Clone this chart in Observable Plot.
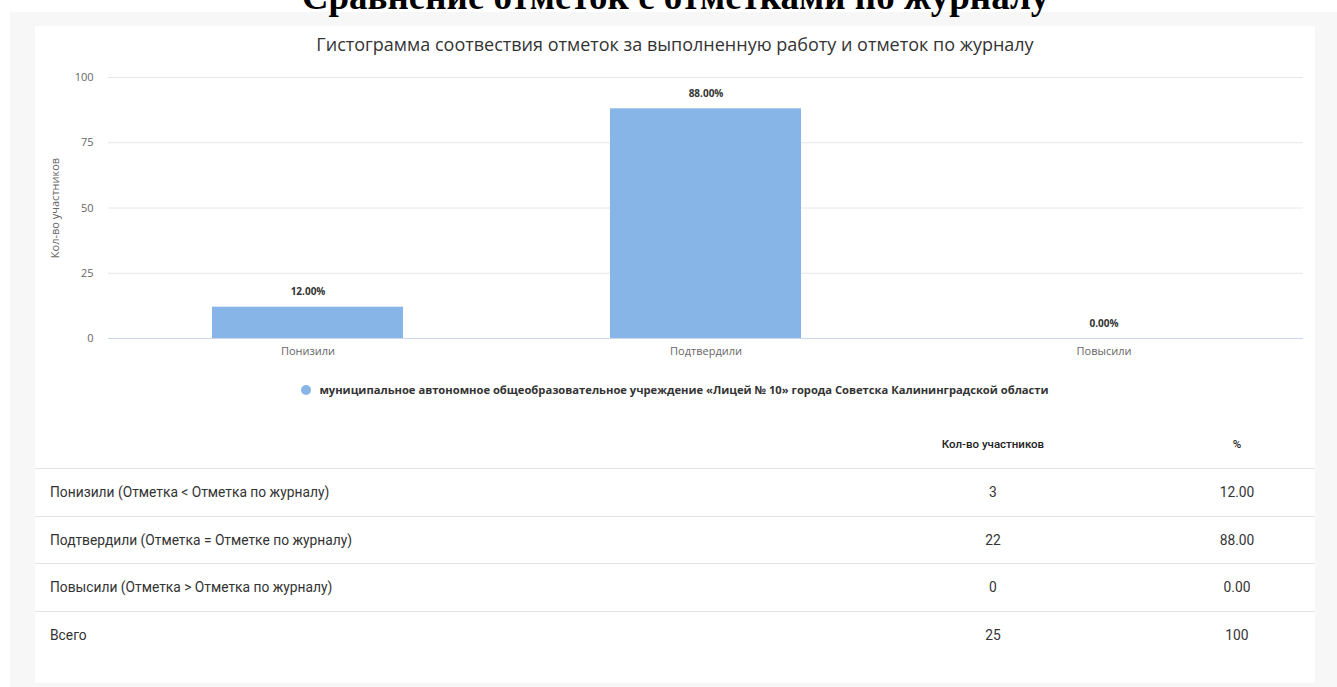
<!DOCTYPE html>
<html>
<head>
<meta charset="utf-8">
<script src="https://cdn.jsdelivr.net/npm/d3@7"></script>
<script src="https://cdn.jsdelivr.net/npm/@observablehq/plot@0.6"></script>
<style>
  html, body { margin: 0; padding: 0; background: #fff; width: 1337px; height: 687px; overflow: hidden; }
  #pagetitle { position: absolute; left: 7px; width: 1337px; top: -22px; text-align: center; font-family: "Liberation Serif", "Times New Roman", serif; font-weight: bold; font-size: 37px; line-height: 37px; color: #000; z-index: 3; white-space: nowrap; }
  #panel { position: absolute; left: 10px; top: 12px; right: 0; bottom: 0; background: #f7f7f7; z-index: 1; }
  #card { position: absolute; left: 35px; top: 26px; width: 1280px; height: 657px; background: #fff; z-index: 2; }
  #charttitle { position: absolute; left: 0; width: 1280px; top: 7px; text-align: center; font-family: "Open Sans", sans-serif; font-size: 18px; color: #333; line-height: 22px; white-space: nowrap; }
  #chart { position: absolute; left: 0; top: 34px; }
  #legend { position: absolute; left: 0; width: 1280px; top: 356px; text-align: center; font-family: "Open Sans", sans-serif; font-weight: bold; font-size: 11.2px; color: #333; line-height: 16px; white-space: nowrap; }
  #legend .dot { display: inline-block; width: 10px; height: 10px; border-radius: 50%; margin-right: 8px; vertical-align: -1px; }
  #tbl { position: absolute; left: 0; top: 394px; width: 1280px; border-collapse: collapse; font-family: Roboto, sans-serif; color: #333; }
  #tbl td, #tbl th { padding: 0; }
  #tbl th { height: 48px; font-size: 11.5px; font-weight: 500; color: #222; text-align: center; }
  #tbl td { height: 46.5px; font-size: 13.8px; border-top: 1px solid #e2e2e2; }
  #tbl td.lbl { padding-left: 15px; text-align: left; }
  #tbl td.num { text-align: center; }
</style>
</head>
<body>
<div id="pagetitle">Сравнение отметок с отметками по журналу</div>
<div id="panel"></div>
<div id="card">
  <div id="charttitle">Гистограмма соотвествия отметок за выполненную работу и отметок по журналу</div>
  <div id="chart"></div>
  <div id="legend"></div>
  <table id="tbl"></table>
</div>
<script>
// ---- data ----
const categories = ["Понизили", "Подтвердили", "Повысили"];
const percents = [12, 88, 0];
const counts = [3, 22, 0];
const rowLabels = [
  "Понизили (Отметка < Отметка по журналу)",
  "Подтвердили (Отметка = Отметке по журналу)",
  "Повысили (Отметка > Отметка по журналу)"
];
const totalLabel = "Всего";
const totalCount = 25;
const totalPercent = "100";
const yTicks = [0, 25, 50, 75, 100];
const seriesName = "муниципальное автономное общеобразовательное учреждение «Лицей № 10» города Советска Калининградской области";
const yLabel = "Кол-во участников";
const colHeaders = ["", "Кол-во участников", "%"];
const barColor = "#88b5e8";

const data = categories.map((c, i) => ({cat: c, pct: percents[i], n: counts[i]}));

const chart = Plot.plot({
  width: 1280,
  height: 310,
  marginLeft: 73,
  marginRight: 12,
  marginTop: 17,
  marginBottom: 32,
  style: {fontFamily: "Open Sans, sans-serif", fontSize: "11px", color: "#666", background: "transparent", overflow: "visible"},
  x: {domain: categories, paddingInner: 0.52, paddingOuter: 0.26, label: null},
  y: {domain: [0, 100], label: null},
  marks: [
    Plot.gridY(yTicks, {stroke: "#e6e6e6", strokeOpacity: 1}),
    Plot.axisY(yTicks, {tickSize: 0, tickPadding: 15, label: yLabel, labelAnchor: "center", labelOffset: 57, labelArrow: "none", fontSize: 11}),
    Plot.axisX({tickSize: 0, tickPadding: 9, fontSize: 11}),
    Plot.barY(data, {x: "cat", y: "pct", fill: barColor}),
    Plot.ruleY([0], {stroke: "#ccd6eb"}),
    Plot.text(data, {x: "cat", y: "pct", text: d => d.pct.toFixed(2) + "%", dy: -15, fontWeight: "bold", fontSize: 10, fill: "#333"})
  ]
});
document.getElementById("chart").appendChild(chart);

document.getElementById("legend").innerHTML =
  `<span class="dot" style="background:${barColor}"></span>${seriesName}`;

const tbl = document.getElementById("tbl");
let html = `<colgroup><col style="width:792px"><col style="width:332px"><col style="width:156px"></colgroup>`;
html += `<tr>${colHeaders.map(h => `<th>${h}</th>`).join("")}</tr>`;
rowLabels.forEach((l, i) => {
  html += `<tr><td class="lbl">${l.replace("<", "&lt;").replace(">", "&gt;")}</td><td class="num">${counts[i]}</td><td class="num">${percents[i].toFixed(2)}</td></tr>`;
});
html += `<tr><td class="lbl">${totalLabel}</td><td class="num">${totalCount}</td><td class="num">${totalPercent}</td></tr>`;
tbl.innerHTML = html;
</script>
</body>
</html>
